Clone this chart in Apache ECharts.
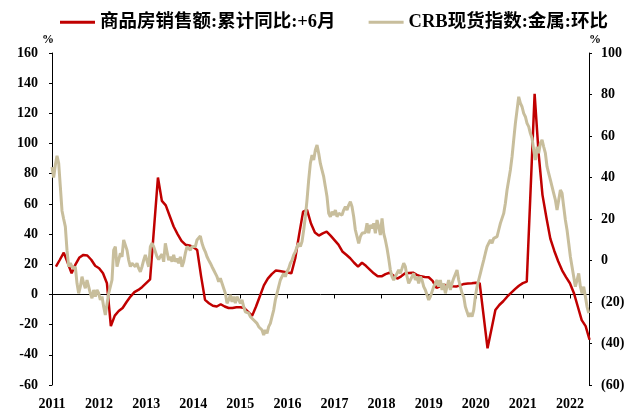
<!DOCTYPE html>
<html><head><meta charset="utf-8">
<script src="https://cdn.jsdelivr.net/npm/echarts@6/dist/echarts.min.js"></script>
<style>html,body{margin:0;padding:0;background:#fff}#c{width:631px;height:412px}</style>
</head><body><div id="c"></div><script>
// ---- data ----
const seriesNames = ['商品房销售额:累计同比:+6月', 'CRB现货指数:金属:环比'];
const yearLabels = [2011, 2012, 2013, 2014, 2015, 2016, 2017, 2018, 2019, 2020, 2021, 2022];
const leftTicks = [-60, -40, -20, 0, 20, 40, 60, 80, 100, 120, 140, 160];
const rightTicks = [-60, -40, -20, 0, 20, 40, 60, 80, 100];

// 商品房销售额 累计同比 (+6月), monthly, starting Feb 2011 (null = not published)
const redStart = { year: 2011, month: 2 };
const redValues = [
  18.4, 23, 27.7, 21, 14, 20, 24.5, 26.2, 25.8, 23, 19,            // 2011 Feb-Dec
  17.4, 14, 7.4, -21, -14, -11, -9, -5, -1.4, 1.5, 3, 5,           // 2012
  7.5, 10, null, 77.5, 62, 59, 52, 45, 40, 35.5, 33, 32.5,         // 2013
  31.5, 29.5, 12, -3.6, -5.8, -7.5, -8, -6.5, -8, -9, -9, -8.5,    // 2014
  -8.5, -9, -11.5, -14.2, -8, -1, 6, 10.5, 13.5, 15.8, 15.5, 15,   // 2015
  14.5, 14, 24, 40, 54.9, 56, 47, 41, 39, 40.5, 41.6, 39,          // 2016
  36, 33, 28.5, 26.3, 24, 21, 18.5, 21, 19, 16.5, 14, 12,          // 2017
  12, 13.5, 14.4, 12.5, 10.5, 12, 14, 14.2, 14.4, 13, 12, 11.6,    // 2018
  11.4, 9, 4.3, 5.5, 6.3, 6, 5.5, 5.2, 6, 7, 7.2, 7.4,             // 2019
  7.8, 7.5, null, -35.7, -23, -10.3, -7, -4.5, -1.5, 1, 3.5, 5.8,  // 2020
  7.5, 8.5, null, 133, 94, 66, 51, 37, 29, 22, 16, 11.5,           // 2021
  7.4, 1, -8, -17, -21, -30                                         // 2022 Jan-Jun
];

// CRB现货指数:金属:环比, sampled about every 13 days from start of 2011
const khakiStartYear = 2011.0;
const khakiStepDays = 12.93;
const khakiValues = [
  45, 40, 46, 50.5, 47, 35.6, 24, 20, 16.3, 5, -3, -1.3, -3, -4, -3, -11, -15.8, -12.6, -7.8, -11,
  -13.4, -9.4, -12.6, -15.8, -18.2, -14.2, -17.4, -14.2, -15.8, -19, -17.4, -22.3, -26.3, -27.1, -15.8, -12.6, -9.4, 5, 6.7, -3,
  0.2, 3.5, 1.8, 9.9, 9.1, 5, 0.2, -3, -1.3, -2.2, -3, -1.3, -3.8, -5.4, -3, 0.2, 2.7, 1.8, -3, 6.7,
  8.3, 6.7, 7.5, 1.8, 0.5, 2, 3, -0.6, 8.3, 4.2, 0.2, 1.8, -0.6, 2.7, -0.6, 1, -1.3, 1.8, -3, -0.6,
  3.5, 6.7, 7.5, 5, 6.7, 7.5, 6.7, 9.9, 10.7, 11.8, 8.3, 5.9, 4.2, 1.8, 0.2, -1.3, -3, -4.6, -6.2, -7.8,
  -10.2, -8.6, -11, -13.4, -15.8, -20.6, -19, -16.6, -19.9, -17.4, -20.6, -17.4, -19, -20.6, -19, -22.3, -24.7, -23.9, -25.4, -27.1,
  -26.3, -28.7, -27.9, -30.3, -31.9, -31, -33.5, -35.9, -33.5, -35.1, -31.9, -30.3, -27.1, -23.9, -19, -15.8, -12.6, -9.4, -7.8, -6.2,
  -7.8, -5.4, -3.8, -1.3, 0.2, 2.7, 4.2, 6.7, 8.3, 6.7, 9.1, 14.7, 21.1, 29.2, 38.8, 46.8, 50.8, 48.4, 53.3, 55.7,
  51.7, 46.8, 43.6, 40.4, 35.6, 30.7, 22.7, 21.1, 23.5, 21.9, 24.3, 21.1, 22.7, 23.5, 21.9, 24.3, 25.9, 24.3, 26.7, 28.3,
  25.9, 21.1, 14.7, 11.5, 8.3, 11.5, 13.1, 13.9, 13.5, 17.9, 13.1, 17.1, 15.5, 17.9, 13.1, 19.5, 16.3, 12.3, 20.3, 13.1,
  9.9, 5.9, 1, -4.6, -7.8, -9.4, -7.8, -8.6, -4.6, -6.2, -3.8, -1.3, -3, -7.8, -11, -9.4, -7.8, -6.2, -9.4, -7.8,
  -11, -7.8, -9.4, -12.6, -14.2, -16.6, -19, -17.4, -15, -12.6, -11, -9.4, -12.6, -9.4, -14.2, -11, -15.8, -12.6, -9.4, -14.2,
  -11, -8.6, -7.8, -4.6, -9.4, -12.6, -15.8, -17.4, -22.3, -24.7, -27.1, -25.4, -27.1, -23.9, -17.4, -12.6, -9.4, -6.2, -3, 0.2,
  3.5, 6.7, 8.3, 9.9, 8.3, 10.7, 9.9, 11.5, 14.7, 17.9, 18.7, 22.7, 27.6, 34, 38.8, 43.6, 50, 58.1, 66.1, 72.5,
  78.9, 75.8, 74.1, 70.9, 69.3, 66.1, 64.5, 61.3, 58.9, 53.3, 48.4, 54.8, 51.7, 56.5, 58.1, 54.8, 51.7, 45.2, 42, 38.8,
  35.6, 32.4, 29.2, 24.3, 29.2, 34, 32.4, 25.9, 19.5, 14.7, 8.3, 1.8, -3, -7.8, -12.6, -9.4, -6.2, -12.6, -15.8, -12.6,
  -17.4, -22.3, -25.4
];
const xEnd = 2022.405; // axis end (about mid-2022)

// ---- build ----
const redData = redValues.map((v, i) => {
  const m = redStart.month - 1 + i;
  return [redStart.year + m / 12, v];
});
const khakiData = khakiValues.map((v, i) => [khakiStartYear + i * khakiStepDays / 365.25, v]);

const FONT = '"Liberation Serif","Times New Roman",serif';
const FONT_CJK = '"Liberation Serif","Noto Sans CJK SC",serif';
const lblStyle = { fontFamily: FONT, fontWeight: 'bold', fontSize: 14, color: '#000' };

const chart = echarts.init(document.getElementById('c'), null, { renderer: 'canvas' });
chart.setOption({
  animation: false,
  backgroundColor: '#fff',
  grid: { left: 52, right: 42, top: 53, bottom: 27, containLabel: false },
  legend: {
    data: seriesNames,
    left: 55, top: 8,
    icon: 'rect', itemWidth: 35, itemHeight: 3, itemGap: 33,
    textStyle: { fontFamily: FONT_CJK, fontWeight: 'bold', fontSize: 18.5, color: '#000' }
  },
  xAxis: [
    {
      type: 'value', min: yearLabels[0], max: xEnd, interval: 1,
      axisLine: { show: true, onZero: true, onZeroAxisIndex: 0, lineStyle: { color: '#000', width: 1 } },
      axisTick: { show: true, inside: false, length: 4, lineStyle: { color: '#000' } },
      axisLabel: { show: false }, splitLine: { show: false }
    },
    {
      type: 'value', position: 'bottom', min: yearLabels[0], max: xEnd, interval: 1,
      axisLine: { show: false, onZero: false }, axisTick: { show: false }, splitLine: { show: false },
      axisLabel: Object.assign({ margin: 12, formatter: v => (yearLabels.includes(v) ? String(v) : '') }, lblStyle)
    }
  ],
  yAxis: [
    {
      type: 'value', position: 'left', min: leftTicks[0], max: leftTicks[leftTicks.length - 1], interval: 20,
      name: '%', nameLocation: 'end', nameGap: 4,
      nameTextStyle: { fontFamily: FONT, fontWeight: 'bold', fontSize: 12, color: '#000', align: 'right', padding: [0, -2, 0, 0] },
      axisLine: { show: true, lineStyle: { color: '#000', width: 1 } },
      axisTick: { show: true, inside: false, length: 3, lineStyle: { color: '#000' } },
      axisLabel: Object.assign({ margin: 14 }, lblStyle),
      splitLine: { show: false }
    },
    {
      type: 'value', position: 'right', min: rightTicks[0], max: rightTicks[rightTicks.length - 1], interval: 20,
      name: '%', nameLocation: 'end', nameGap: 4,
      nameTextStyle: { fontFamily: FONT, fontWeight: 'bold', fontSize: 12, color: '#000', align: 'left', padding: [0, 0, 0, 0] },
      axisLine: { show: true, lineStyle: { color: '#000', width: 1 } },
      axisTick: { show: true, inside: false, length: 3, lineStyle: { color: '#000' } },
      axisLabel: Object.assign({ margin: 12, formatter: v => (v < 0 ? '(' + (-v) + ')' : String(v)) }, lblStyle),
      splitLine: { show: false }
    }
  ],
  series: [
    {
      name: seriesNames[0], type: 'line', xAxisIndex: 0, yAxisIndex: 0,
      data: redData, symbol: 'none', connectNulls: true,
      lineStyle: { color: '#C00000', width: 2.5 }, itemStyle: { color: '#C00000' }, z: 2
    },
    {
      name: seriesNames[1], type: 'line', xAxisIndex: 0, yAxisIndex: 1,
      data: khakiData, symbol: 'none',
      lineStyle: { color: '#C8BE9C', width: 3 }, itemStyle: { color: '#C8BE9C' }, z: 3
    }
  ]
});
</script></body></html>
